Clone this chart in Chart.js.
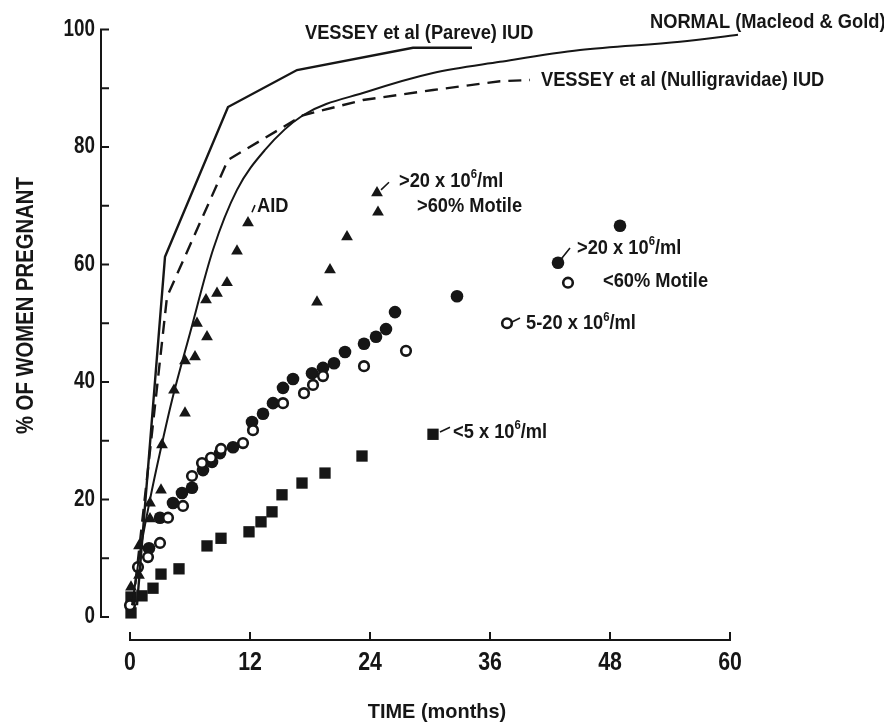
<!DOCTYPE html>
<html>
<head>
<meta charset="utf-8">
<script src="https://cdn.jsdelivr.net/npm/chart.js@4.4.1/dist/chart.umd.min.js"></script>
<style>
  html, body { margin: 0; padding: 0; background: #fff; }
  #wrap { width: 884px; height: 726px; }
</style>
</head>
<body>
<div id="wrap"><canvas id="grafica" width="884" height="726"></canvas></div>
<script>
// ejes
const ticksX = [0, 12, 24, 36, 48, 60];
const ticksY = [0, 20, 40, 60, 80, 100];
const menoresY = [10, 30, 50, 70, 90];

// curvas de referencia
const pareveX = [0.7, 3.5, 9.8, 16.7, 28.3, 34.2];
const pareveY = [2, 61.3, 86.8, 93.1, 96.9, 96.9];

const nulliX = [0.3, 3.7, 9.8, 17.3, 23.3, 30.3, 37, 40];
const nulliY = [2, 54.5, 77.8, 85.4, 88.0, 89.7, 91.2, 91.4];

const normalX = [0.2, 1, 2, 3, 4.2, 6, 8.3, 10.7, 13.5, 17.3, 23.7, 30.3, 37, 45, 55, 60.8];
const normalY = [2, 11, 20, 28, 36.9, 48.3, 62.5, 72.7, 79.5, 85.4, 89.4, 92.6, 94.5, 96.5, 97.9, 99.1];

// AID, >20 x 10^6/ml >60% motile (triangulos)
const aidX = [0.1, 0.9, 0.9, 2.0, 2.0, 3.1, 3.2, 4.4, 5.5, 5.5, 6.5, 6.7, 7.6, 7.7, 8.7, 9.7, 10.7, 11.8, 18.7, 20.0, 21.7, 24.7, 24.8];
const aidY = [5.1, 7.1, 12.1, 16.7, 19.4, 21.6, 29.3, 38.6, 34.7, 43.6, 44.3, 50.0, 54.0, 47.7, 55.1, 56.9, 62.3, 67.1, 53.6, 59.1, 64.7, 72.2, 68.9];

// >20 x 10^6/ml <60% motile (circulos llenos)
const llenoX = [1.9, 3.0, 4.3, 5.2, 6.2, 7.3, 8.2, 9.0, 10.3, 12.2, 13.3, 14.3, 15.3, 16.3, 18.2, 19.3, 20.4, 21.5, 23.4, 24.6, 25.6, 26.5, 32.7, 42.8, 49.0];
const llenoY = [11.7, 16.9, 19.4, 21.1, 22.0, 25.0, 26.4, 27.9, 28.9, 33.2, 34.6, 36.4, 39.0, 40.5, 41.5, 42.4, 43.2, 45.1, 46.5, 47.7, 49.0, 51.9, 54.6, 60.3, 66.6];

// 5-20 x 10^6/ml (circulos vacios)
const vacioX = [0, 0.8, 1.8, 3.0, 3.8, 5.3, 6.2, 7.2, 8.1, 9.1, 11.3, 12.3, 15.3, 17.4, 18.3, 19.3, 23.4, 27.6, 37.7, 43.8];
const vacioY = [2.0, 8.5, 10.2, 12.6, 16.9, 18.9, 24.0, 26.2, 27.1, 28.6, 29.6, 31.8, 36.4, 38.1, 39.5, 41.0, 42.7, 45.3, 50.0, 56.9];

// <5 x 10^6/ml (cuadrados)
const cuadX = [0.1, 0.1, 1.2, 2.3, 3.1, 4.9, 7.7, 9.1, 11.9, 13.1, 14.2, 15.2, 17.2, 19.5, 23.2, 30.3];
const cuadY = [0.7, 3.4, 3.6, 4.9, 7.3, 8.2, 12.1, 13.4, 14.5, 16.2, 17.9, 20.8, 22.8, 24.5, 27.4, 31.1];

// textos sobre la grafica (x, y en unidades de datos)
const notasTexto = ["VESSEY et al (Pareve) IUD", "NORMAL (Macleod & Gold)", "VESSEY et al (Nulligravidae) IUD",
  "AID", ">20 x 10^6/ml", ">60% Motile", ">20 x 10^6/ml", "<60% Motile", "5-20 x 10^6/ml", "<5 x 10^6/ml"];
const notasX = [17.5, 52.0, 41.1, 12.7, 26.9, 28.7, 44.7, 47.3, 39.6, 32.3];
const notasY = [99.4, 101.3, 91.4, 70.0, 74.2, 70.0, 62.8, 57.2, 50.0, 31.5];

// rayitas que unen texto y punto
const guiaX1 = [12.2, 25.1, 43.1, 38.2, 31.0];
const guiaY1 = [68.9, 72.7, 60.9, 50.2, 31.5];
const guiaX2 = [12.5, 25.9, 44.0, 39.0, 32.0];
const guiaY2 = [70.1, 74.0, 62.8, 50.9, 32.3];

const fuente = '"Liberation Sans", Arial, sans-serif';
const tinta = '#161616';

function puntos(xs, ys) {
    return xs.map((x, i) => ({ x: x, y: ys[i] }));
}

// texto bold angostado horizontalmente (la letra original es condensada)
function texto(ctx, t, x, y, size, ancho, align) {
    ctx.save();
    ctx.translate(x, y);
    ctx.scale(ancho, 1);
    ctx.textAlign = align;
    let partes = t.split(/\^(\d)/);
    let cx = 0;
    partes.forEach((p, i) => {
        let sup = i % 2 === 1;
        ctx.font = `bold ${sup ? Math.round(size * 0.62) : size}px ${fuente}`;
        ctx.fillText(p, cx, sup ? -size * 0.3 : 0);
        cx += ctx.measureText(p).width;
    });
    ctx.restore();
}

const ejes = {
    id: 'ejes',
    afterDraw(chart) {
        const ctx = chart.ctx;
        const sx = chart.scales.x;
        const sy = chart.scales.y;
        const area = chart.chartArea;
        ctx.save();
        ctx.strokeStyle = tinta;
        ctx.fillStyle = tinta;
        ctx.lineWidth = 2;
        ctx.lineCap = 'square';

        // eje y
        let x0 = area.left;
        ctx.beginPath();
        ctx.moveTo(x0, sy.getPixelForValue(0));
        ctx.lineTo(x0, sy.getPixelForValue(100));
        ticksY.concat(menoresY).forEach(v => {
            ctx.moveTo(x0, sy.getPixelForValue(v));
            ctx.lineTo(x0 + 7, sy.getPixelForValue(v));
        });
        // eje x
        let y0 = area.bottom;
        ctx.moveTo(sx.getPixelForValue(0), y0);
        ctx.lineTo(sx.getPixelForValue(60), y0);
        ticksX.forEach(v => {
            ctx.moveTo(sx.getPixelForValue(v), y0);
            ctx.lineTo(sx.getPixelForValue(v), y0 - 7);
        });
        ctx.stroke();

        // rayitas guia
        ctx.lineWidth = 1.6;
        ctx.lineCap = 'butt';
        ctx.beginPath();
        guiaX1.forEach((g, i) => {
            ctx.moveTo(sx.getPixelForValue(g), sy.getPixelForValue(guiaY1[i]));
            ctx.lineTo(sx.getPixelForValue(guiaX2[i]), sy.getPixelForValue(guiaY2[i]));
        });
        ctx.stroke();

        ctx.textBaseline = 'middle';

        // etiquetas de ticks
        ticksY.forEach(v => texto(ctx, String(v), x0 - 6, sy.getPixelForValue(v), 23, 0.82, 'right'));
        ticksX.forEach(v => texto(ctx, String(v), sx.getPixelForValue(v), 663, 26, 0.82, 'center'));

        // textos
        notasTexto.forEach((t, i) => {
            texto(ctx, t, sx.getPixelForValue(notasX[i]), sy.getPixelForValue(notasY[i]), 21, 0.87, 'left');
        });

        // titulos de ejes
        texto(ctx, 'TIME (months)', sx.getPixelForValue(30.7), 712, 21, 0.95, 'center');
        ctx.translate(26, sy.getPixelForValue(53));
        ctx.rotate(-Math.PI / 2);
        texto(ctx, '% OF WOMEN PREGNANT', 0, 0, 24, 0.845, 'center');
        ctx.restore();
    }
};

const ctx = document.getElementById('grafica').getContext('2d');
const miGrafica = new Chart(ctx, {
    type: 'scatter',
    data: {
        datasets: [
            {
                label: 'VESSEY et al (Pareve) IUD',
                data: puntos(pareveX, pareveY),
                showLine: true, borderColor: tinta, borderWidth: 2.4,
                pointRadius: 0, tension: 0, clip: false
            },
            {
                label: 'VESSEY et al (Nulligravidae) IUD',
                data: puntos(nulliX, nulliY),
                showLine: true, borderColor: tinta, borderWidth: 2.4, borderDash: [13, 8],
                pointRadius: 0, tension: 0, clip: false
            },
            {
                label: 'NORMAL (Macleod & Gold)',
                data: puntos(normalX, normalY),
                showLine: true, borderColor: tinta, borderWidth: 2,
                pointRadius: 0, cubicInterpolationMode: 'monotone', clip: false
            },
            {
                label: 'AID >20 x 10^6/ml >60% Motile',
                data: puntos(aidX, aidY),
                pointStyle: 'triangle', pointRadius: 6.8,
                backgroundColor: tinta, borderColor: tinta, borderWidth: 0, clip: false
            },
            {
                label: '5-20 x 10^6/ml',
                data: puntos(vacioX, vacioY),
                pointStyle: 'circle', pointRadius: 4.8,
                backgroundColor: '#fff', borderColor: tinta, borderWidth: 2.6, clip: false
            },
            {
                label: '>20 x 10^6/ml <60% Motile',
                data: puntos(llenoX, llenoY),
                pointStyle: 'circle', pointRadius: 6.3,
                backgroundColor: tinta, borderColor: tinta, borderWidth: 0, clip: false
            },
            {
                label: '<5 x 10^6/ml',
                data: puntos(cuadX, cuadY),
                pointStyle: 'rect', pointRadius: 8,
                backgroundColor: tinta, borderColor: tinta, borderWidth: 0, clip: false
            }
        ]
    },
    options: {
        responsive: false,
        animation: false,
        devicePixelRatio: 1,
        layout: { padding: { left: 0, right: 154, top: 29.5, bottom: 0 } },
        plugins: {
            legend: { display: false },
            tooltip: { enabled: false }
        },
        scales: {
            x: {
                type: 'linear',
                min: -2.9, max: 60,
                grid: { display: false, drawTicks: false },
                border: { display: false },
                afterBuildTicks: s => { s.ticks = ticksX.map(v => ({ value: v })); },
                afterFit: s => { s.height = 86; },
                ticks: { display: false }
            },
            y: {
                type: 'linear',
                min: -3.915, max: 100,
                grid: { display: false, drawTicks: false },
                border: { display: false },
                afterBuildTicks: s => { s.ticks = ticksY.map(v => ({ value: v })); },
                afterFit: s => { s.width = 101; },
                ticks: { display: false }
            }
        }
    },
    plugins: [ejes]
});
</script>
</body>
</html>
